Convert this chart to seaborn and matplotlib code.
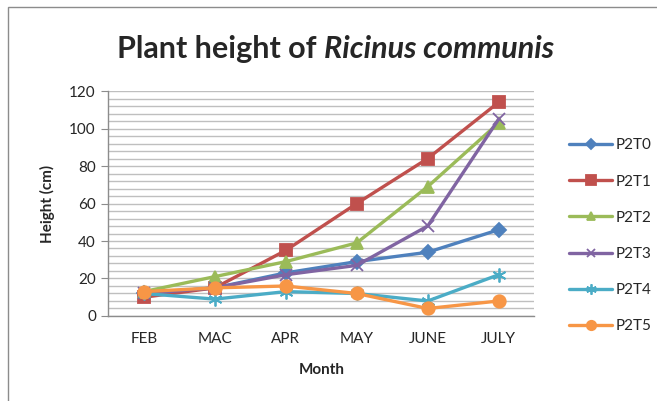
import matplotlib
matplotlib.use('Agg')
import matplotlib.pyplot as plt
import seaborn as sns
import pandas as pd
from matplotlib.ticker import MultipleLocator
from matplotlib.patches import Rectangle

# --- data ---
months = ['FEB', 'MAC', 'APR', 'MAY', 'JUNE', 'JULY']
p2t0 = [12, 15, 23, 29, 34, 46]
p2t1 = [10, 15, 35, 60, 84, 114]
p2t2 = [13, 21, 29, 39, 69, 103]
p2t3 = [12, 15, 22, 27, 48, 105]
p2t4 = [12, 9, 13, 12, 8, 22]
p2t5 = [13, 15, 16, 12, 4, 8]

series_names = ['P2T0', 'P2T1', 'P2T2', 'P2T3', 'P2T4', 'P2T5']
series_values = [p2t0, p2t1, p2t2, p2t3, p2t4, p2t5]
colors = ['#4F81BD', '#C0504D', '#9BBB59', '#8064A2', '#4BACC6', '#F79646']
markers = ['D', 's', '^', 'x', (6, 2, 0), 'o']
marker_sizes = [7, 9, 8, 8, 10, 9]

sns.set_style('white')
plt.rcParams['font.family'] = ['Lato', 'DejaVu Sans']

fig = plt.figure(figsize=(6.57, 4.01), dpi=100)
ax = fig.add_axes([0.165, 0.212, 0.648, 0.561])

# outer chart frame
fig.patches.append(Rectangle((0.012, -0.05), 1.1, 1.033, transform=fig.transFigure,
                             fill=False, edgecolor='#8C8C8C', linewidth=1.0))

for name, vals, c, m, ms in zip(series_names, series_values, colors, markers, marker_sizes):
    df = pd.DataFrame({'Month': months, 'Height': vals})
    sns.lineplot(data=df, x='Month', y='Height', ax=ax, color=c, linewidth=2.4,
                 marker=m, markersize=ms, markeredgecolor=c, markeredgewidth=1.3,
                 label=name, sort=False)

ax.set_xlim(-0.5, 5.5)
ax.set_ylim(0, 120)
ax.yaxis.set_major_locator(MultipleLocator(20))
ax.yaxis.set_minor_locator(MultipleLocator(4))
ax.grid(True, which='both', axis='y', color='#BFBFBF', linewidth=1.0)
ax.set_axisbelow(True)

for s in ['top', 'right']:
    ax.spines[s].set_visible(False)
for s in ['left', 'bottom']:
    ax.spines[s].set_color('#8C8C8C')
    ax.spines[s].set_linewidth(1.0)

ax.tick_params(axis='y', which='major', left=True, length=5, color='#8C8C8C',
               labelsize=11, pad=4)
ax.tick_params(axis='y', which='minor', left=False)
ax.tick_params(axis='x', bottom=False, labelsize=11, pad=8)

ax.set_xlabel('Month', fontsize=11, fontweight='bold', labelpad=12)
ax.set_ylabel('Height (cm)', fontsize=11, fontweight='bold', labelpad=10)

# title: regular bold part + bold italic species name
title_y = 0.878
t1 = fig.text(0, title_y, 'Plant height of ', ha='left', va='center',
              fontsize=22, fontweight='bold')
t2 = fig.text(0, title_y, 'Ricinus communis', ha='left', va='center',
              fontsize=22, fontweight='bold', fontstyle='italic')
fig.canvas.draw()
r = fig.canvas.get_renderer()
w1 = t1.get_window_extent(r).width / fig.bbox.width
w2 = t2.get_window_extent(r).width / fig.bbox.width
x0 = 0.511 - (w1 + w2) / 2
t1.set_x(x0)
t2.set_x(x0 + w1)

leg = ax.legend(loc='upper left', bbox_to_anchor=(0.857, 0.67), bbox_transform=fig.transFigure,
                frameon=False, fontsize=11, handlelength=2.8, labelspacing=1.45,
                handletextpad=0.25, borderaxespad=0, markerscale=0.75)

fig.savefig('out.png', dpi=100)
plt.close(fig)
